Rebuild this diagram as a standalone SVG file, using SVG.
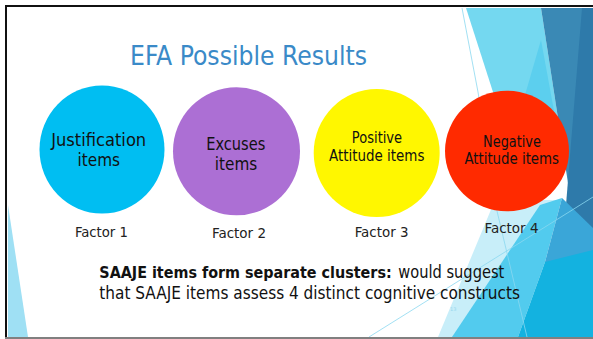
<svg xmlns="http://www.w3.org/2000/svg" width="593" height="339" viewBox="0 0 593 339">
<style>
.t{font-family:"DejaVu Sans Condensed","DejaVu Sans","Liberation Sans",sans-serif;fill:#111;}
.title{font-size:26.5px;fill:#3A8AC8;}
.ct{font-size:17.5px;text-anchor:middle;}
.cs{font-size:15px;text-anchor:middle;}
.fl{font-size:14.5px;text-anchor:middle;fill:#222;}
.bt{font-size:17px;}
.thin{stroke:#8AD8F0;stroke-width:0.8;fill:none;}
</style>
<rect x="0" y="0" width="593" height="339" fill="#ffffff"/>
<g id="background">
<polygon points="8,205 28,337 8,337" fill="#9FE0F4"/>
<polygon points="495,200 560,200 455,337 438,337" fill="#C8EEF9"/>
<polygon points="466,8 541,8 566,170 518,170" fill="#74D8F0"/>
<polygon points="541,40 563,160 506,160" fill="#5CCFEE"/>
<polygon points="541,8 593,8 593,232 574,222" fill="#3A89B5"/>
<polygon points="582,8 593,8 593,232 566,205" fill="#2E7AAA"/>
<polygon points="540,205 562,198 545,262 518,337 452,337" fill="#52CBEE"/>
<polygon points="562,198 593,228 593,290 545,262" fill="#3AA6D8"/>
<polygon points="593,250 593,337 518,337 545,262" fill="#13B2E0"/>
<polyline class="thin" points="462,8 478,92 497,211 527,337"/>
<line class="thin" x1="369" y1="337" x2="593" y2="197"/>
</g>
<g id="frame">
<rect x="5" y="5" width="588" height="2" fill="#111"/>
<rect x="5" y="5" width="2" height="334" fill="#111"/>
<rect x="5" y="337" width="588" height="2" fill="#808080"/>
</g>
<text class="t title" x="130" y="65" textLength="237" lengthAdjust="spacingAndGlyphs">EFA Possible Results</text>
<g id="node-justification">
<ellipse cx="102" cy="149.5" rx="62.5" ry="64" fill="#00BEF2"/>
<text class="t ct" x="98.7" y="146" textLength="95" lengthAdjust="spacingAndGlyphs">Justification</text>
<text class="t ct" x="98.8" y="166" textLength="42.5" lengthAdjust="spacingAndGlyphs">items</text>
<text class="t fl" x="101.4" y="236.7" textLength="53" lengthAdjust="spacingAndGlyphs">Factor 1</text>
</g>
<g id="node-excuses">
<ellipse cx="236.5" cy="151.3" rx="63.5" ry="64" fill="#AC6FD4"/>
<text class="t ct" x="235.8" y="149.7" textLength="59" lengthAdjust="spacingAndGlyphs">Excuses</text>
<text class="t ct" x="236" y="170" textLength="42.4" lengthAdjust="spacingAndGlyphs">items</text>
<text class="t fl" x="239" y="238.3" textLength="54" lengthAdjust="spacingAndGlyphs">Factor 2</text>
</g>
<g id="node-positive">
<ellipse cx="376.7" cy="153" rx="63" ry="64" fill="#FFF700"/>
<text class="t cs" x="377" y="143.3" textLength="50.3" lengthAdjust="spacingAndGlyphs">Positive</text>
<text class="t cs" x="376.7" y="161.3" textLength="95.4" lengthAdjust="spacingAndGlyphs">Attitude items</text>
<text class="t fl" x="381.6" y="236.7" textLength="53.7" lengthAdjust="spacingAndGlyphs">Factor 3</text>
</g>
<g id="node-negative">
<ellipse cx="507" cy="151" rx="62" ry="60.3" fill="#FF2A00"/>
<text class="t cs" x="512" y="146.7" textLength="57.8" lengthAdjust="spacingAndGlyphs">Negative</text>
<text class="t cs" x="511.7" y="164.3" textLength="94.6" lengthAdjust="spacingAndGlyphs">Attitude items</text>
<text class="t fl" x="511.5" y="233.3" textLength="54" lengthAdjust="spacingAndGlyphs">Factor 4</text>
</g>
<g id="caption">
<text class="t" x="99.3" y="278.3" font-size="16" font-weight="bold" textLength="292.4" lengthAdjust="spacingAndGlyphs">SAAJE items form separate clusters:</text>
<text class="t bt" x="398.3" y="278.3" textLength="106" lengthAdjust="spacingAndGlyphs">would suggest</text>
<text class="t bt" x="99.3" y="299.3" textLength="420.7" lengthAdjust="spacingAndGlyphs">that SAAJE items assess 4 distinct cognitive constructs</text>
<text x="450" y="311" font-family="DejaVu Sans, sans-serif" font-size="5" fill="#9AD8EE">13</text>
</g>
</svg>
